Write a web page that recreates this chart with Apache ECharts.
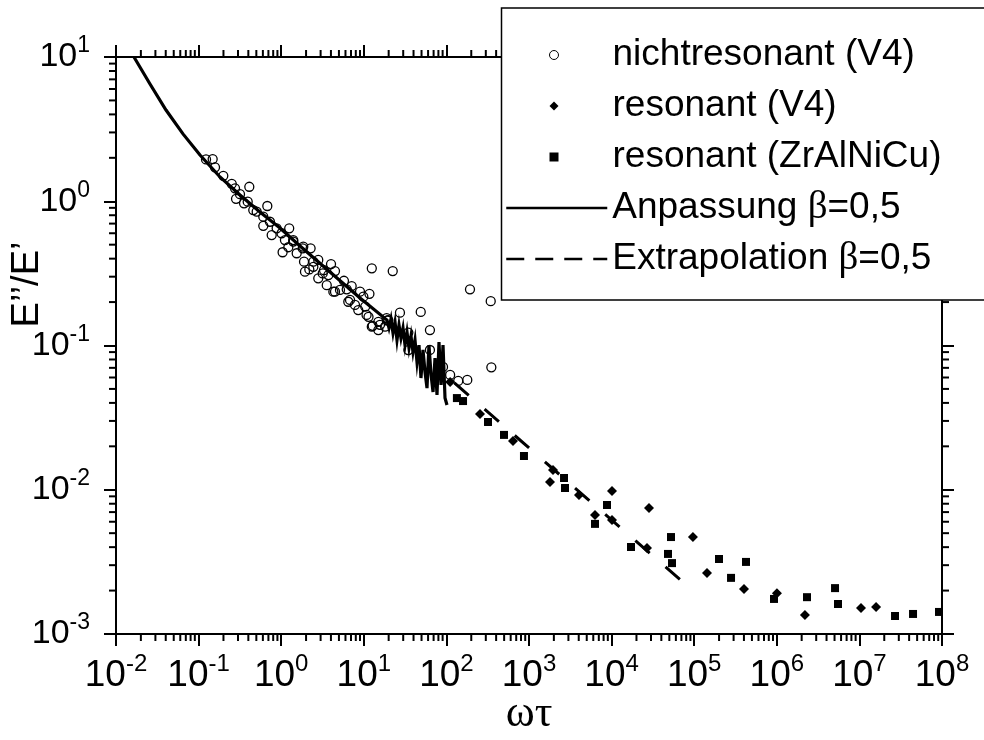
<!DOCTYPE html>
<html>
<head>
<meta charset="utf-8">
<script src="https://cdn.jsdelivr.net/npm/echarts@6/dist/echarts.min.js"></script>
<style>
  html, body { margin: 0; padding: 0; background: #fff; }
  #chart { width: 984px; height: 740px; }
</style>
</head>
<body>
<div id="chart"></div>
<script>
// Loss factor E''/E' versus reduced frequency ωτ (log-log)

// nichtresonant (V4)
const nonresX = [0.123, 0.148, 0.158, 0.199, 0.252, 0.276, 0.317, 0.411, 0.284, 0.355,
  0.393, 0.459, 0.505, 0.679, 0.607, 0.731, 0.607, 0.881, 1.25, 0.767,
  1.01, 1.11, 1.04, 1.22, 1.40, 1.54, 1.82, 2.27, 1.89, 1.94,
  2.19, 2.45, 2.81, 2.81, 3.18, 3.72, 4.01, 4.48, 3.56, 4.48,
  5.75, 6.21, 7.13, 6.49, 7.82, 9.0, 9.87, 11.7, 8.57, 10.4,
  11.4, 12.8, 15.0, 19.3, 12.5, 22.4, 27.4, 48.9, 34.6, 63.2,
  193, 344, 350, 111, 139, 179, 63.2, 34.6, 12.5, 15.7,
  19.8, 10.8, 18.9, 18.1, 15.0, 1.85, 1.40, 6.81, 5.15, 4.28,
  3.30, 2.45, 91];
const nonresY = [1.95, 1.96, 1.72, 1.50, 1.32, 1.23, 1.12, 1.26, 1.04, 0.968,
  0.993, 0.869, 0.847, 0.927, 0.782, 0.721, 0.676, 0.649, 0.649, 0.583,
  0.600, 0.538, 0.443, 0.480, 0.525, 0.436, 0.472, 0.472, 0.381, 0.325,
  0.337, 0.381, 0.392, 0.292, 0.316, 0.308, 0.367, 0.328, 0.262, 0.236,
  0.281, 0.245, 0.258, 0.201, 0.191, 0.236, 0.218, 0.228, 0.176, 0.186,
  0.158, 0.137, 0.146, 0.149, 0.343, 0.328, 0.169, 0.171, 0.123, 0.128,
  0.245, 0.203, 0.0706, 0.0625, 0.0568, 0.0577, 0.0931, 0.093, 0.135, 0.139,
  0.150, 0.163, 0.155, 0.135, 0.128, 0.484, 0.538, 0.207, 0.243, 0.236,
  0.333, 0.351, 0.071];

// resonant (V4)
const resV4X = [111, 255, 640, 1795, 1954, 4027, 10115, 6295, 10115, 28370,
  26850, 96600, 142900, 400900, 1.004e6, 2.19e6, 1.045e7, 1.59e7];
const resV4Y = [0.0558, 0.0335, 0.0218, 0.01132, 0.0137, 0.0092, 0.0098, 0.00668, 0.00617, 0.00747,
  0.00394, 0.0047, 0.00265, 0.00205, 0.00192, 0.001355, 0.001514, 0.001538];

// resonant (ZrAlNiCu)
const resZrX = [134, 159, 319, 498, 869, 2655, 2730, 8790, 6295, 17180,
  52360, 48180, 53860, 199600, 279200, 423700, 924700, 2.32e6, 5.07e6, 5.51e6,
  2.70e7, 4.46e7, 9.2e7];
const resZrY = [0.0432, 0.0412, 0.0295, 0.0240, 0.01714, 0.01206, 0.01028, 0.00784, 0.0058, 0.00401,
  0.0047, 0.00359, 0.0031, 0.00331, 0.00245, 0.00316, 0.00175, 0.0018, 0.00208, 0.001614,
  0.001333, 0.001377, 0.001422];

// Anpassung β=0,5 (smooth part, then the jagged stretch computed at the measured points)
const fitX = [0.0165, 0.0258, 0.0403, 0.0647, 0.104, 0.1815, 0.317, 0.553, 0.966, 1.69,
  3.90, 9.0, 19.1, 20.19, 21.35, 22.57, 23.88, 25.23, 26.68, 28.2,
  29.83, 31.54, 33.34, 35.26, 37.27, 39.4, 41.68, 44.07, 46.6, 49.2,
  52.08, 55.1, 58.23, 61.5, 65.2, 68.9, 72.78, 76.95, 81.34, 86.1,
  91.0, 96.2, 101.6];
const fitY = [10, 6.50, 4.29, 2.93, 2.09, 1.473, 1.105, 0.842, 0.653, 0.490,
  0.323, 0.2135, 0.150, 0.1322, 0.1527, 0.1221, 0.1456, 0.1092, 0.1387, 0.1127,
  0.1322, 0.1007, 0.1240, 0.0961, 0.1164, 0.0901, 0.1092, 0.0768, 0.1007, 0.0595,
  0.0931, 0.0655, 0.0507, 0.1007, 0.0625, 0.0476, 0.0819, 0.0454, 0.1057, 0.0532,
  0.1007, 0.0433, 0.0387];

// Extrapolation β=0,5
const extrapX = [125, 1e5];
const extrapY = [0.055, 0.00196];

// decade exponents used as tick labels
const xTickExponents = ['-2', '-1', '0', '1', '2', '3', '4', '5', '6', '7', '8'];
const yTickExponents = ['-3', '-2', '-1', '0', '1'];

const NAME_NONRES = 'nichtresonant (V4)';
const NAME_RESV4 = 'resonant (V4)';
const NAME_RESZR = 'resonant (ZrAlNiCu)';
const NAME_FIT = 'Anpassung β=0,5';
const NAME_EXT = 'Extrapolation β=0,5';

const X_MIN = -2, X_MAX = 8, Y_MIN = -3, Y_MAX = 1;
const SANS = 'Liberation Sans';
const SERIF = 'Liberation Serif';
const MINOR_LEN = 7;
const MAJOR_LEN = 12;

// the axes run in decades: each value is placed at its base-10 logarithm
function pairs(xs, ys) {
  return xs.map((x, i) => [Math.log10(x), Math.log10(ys[i])]);
}

// minor ticks at 2..9 within each decade
const xMinor = [];
for (let d = X_MIN; d < X_MAX; d++) for (let m = 2; m <= 9; m++) xMinor.push([d + Math.log10(m), Y_MIN]);
const yMinor = [];
for (let d = Y_MIN; d < Y_MAX; d++) for (let m = 2; m <= 9; m++) yMinor.push([X_MIN, d + Math.log10(m)]);

const tickStyle = { stroke: '#000', lineWidth: 2 };

function renderXMinor(params, api) {
  const v = api.value(0);
  const b = api.coord([v, Y_MIN]);
  const t = api.coord([v, Y_MAX]);
  return {
    type: 'group',
    children: [
      { type: 'line', shape: { x1: b[0], y1: b[1], x2: b[0], y2: b[1] + MINOR_LEN }, style: tickStyle },
      { type: 'line', shape: { x1: t[0], y1: t[1], x2: t[0], y2: t[1] - MINOR_LEN }, style: tickStyle }
    ]
  };
}

function renderYMinor(params, api) {
  const v = api.value(1);
  const l = api.coord([X_MIN, v]);
  const r = api.coord([X_MAX, v]);
  return {
    type: 'group',
    children: [
      { type: 'line', shape: { x1: l[0], y1: l[1], x2: l[0] - MINOR_LEN, y2: l[1] }, style: tickStyle },
      { type: 'line', shape: { x1: r[0], y1: r[1], x2: r[0] + MINOR_LEN, y2: r[1] }, style: tickStyle }
    ]
  };
}

const xPowRich = {
  m: { fontFamily: SANS, fontSize: 37, color: '#000' },
  e: { fontFamily: SANS, fontSize: 24, color: '#000', padding: [0, 0, 24, 0] }
};
const yPowRich = {
  m: { fontFamily: SANS, fontSize: 34, color: '#000' },
  e: { fontFamily: SANS, fontSize: 23, color: '#000', padding: [0, 0, 22, 0] }
};

function baseAxis(extra) {
  return Object.assign({
    type: 'value',
    splitLine: { show: false },
    axisLine: { show: true, onZero: false, lineStyle: { color: '#000', width: 2 } },
    axisTick: { show: true, inside: false, length: MAJOR_LEN, lineStyle: { color: '#000', width: 2 } }
  }, extra);
}

const legendText = {
  fontFamily: SANS, fontSize: 37, color: '#000', lineHeight: 40,
  rich: { b: { fontFamily: SERIF, fontSize: 39, color: '#000', lineHeight: 40 } }
};
const legendCommon = {
  orient: 'vertical', padding: 0, itemGap: 11,
  selectedMode: false, z: 20,
  formatter: name => name.replace('β', '{b|β}')
};

const chart = echarts.init(document.getElementById('chart'), null, { renderer: 'canvas' });

chart.setOption({
  animation: false,
  backgroundColor: '#fff',
  grid: { left: 116, right: 42, top: 57, bottom: 106, containLabel: false, outerBoundsMode: 'none' },
  xAxis: [
    baseAxis({
      position: 'bottom', min: X_MIN, max: X_MAX, interval: 1,
      axisLabel: {
        margin: 18,
        formatter: v => '{m|10}{e|' + xTickExponents[Math.round(v) - X_MIN] + '}',
        rich: xPowRich
      },
      name: 'ωτ', nameLocation: 'middle', nameGap: 58, nameMoveOverlap: false,
      nameTextStyle: { fontFamily: SERIF, fontSize: 44, color: '#000' }
    }),
    baseAxis({ position: 'top', min: X_MIN, max: X_MAX, interval: 1, axisLabel: { show: false } })
  ],
  yAxis: [
    baseAxis({
      position: 'left', min: Y_MIN, max: Y_MAX, interval: 1,
      axisLabel: {
        margin: 26,
        formatter: v => '{m|10}{e|' + yTickExponents[Math.round(v) - Y_MIN] + '}',
        rich: yPowRich
      },
      name: 'E\u2019\u2019/E\u2019', nameLocation: 'middle', nameGap: 69, nameRotate: 90, nameMoveOverlap: false,
      nameTextStyle: { fontFamily: SANS, fontSize: 38, color: '#000', padding: [0, 0, 0, 122] }
    }),
    baseAxis({ position: 'right', min: Y_MIN, max: Y_MAX, interval: 1, axisLabel: { show: false } })
  ],
  legend: [
    // marker entries: icon centred in the symbol column, text pushed to the text column
    Object.assign({}, legendCommon, {
      left: 549, top: 35, itemWidth: 9, itemHeight: 9,
      textStyle: Object.assign({}, legendText, { padding: [0, 0, 0, 49] }),
      data: [
        { name: NAME_NONRES, icon: 'circle', itemStyle: { color: 'transparent', borderColor: '#000', borderWidth: 1, opacity: 1 } },
        { name: NAME_RESV4, icon: 'diamond', itemStyle: { color: '#000', opacity: 1 } },
        { name: NAME_RESZR, icon: 'rect', itemStyle: { color: '#000', opacity: 1 } }
      ]
    }),
    // line entries
    Object.assign({}, legendCommon, {
      left: 505, top: 188, itemWidth: 101, itemHeight: 1,
      textStyle: legendText,
      data: [
        { name: NAME_FIT, itemStyle: { color: '#000', opacity: 0 }, lineStyle: { color: '#000', width: 2.5, type: 'solid' } },
        { name: NAME_EXT, itemStyle: { color: '#000', opacity: 0 }, lineStyle: { color: '#000', width: 2.5, type: [18, 11] } }
      ]
    })
  ],
  graphic: [
    {
      type: 'rect', z: 10, silent: true,
      shape: { x: 501.5, y: 8, width: 500, height: 292 },
      style: { fill: '#fff', stroke: '#000', lineWidth: 1.5 }
    }
  ],
  series: [
    {
      type: 'custom', name: 'xMinorTicks', silent: true, clip: false, z: 1,
      xAxisIndex: 0, yAxisIndex: 0, data: xMinor, renderItem: renderXMinor
    },
    {
      type: 'custom', name: 'yMinorTicks', silent: true, clip: false, z: 1,
      xAxisIndex: 0, yAxisIndex: 0, data: yMinor, renderItem: renderYMinor
    },
    {
      type: 'line', name: NAME_FIT, data: pairs(fitX, fitY),
      symbol: 'none', showSymbol: false, silent: true, z: 2,
      itemStyle: { color: '#000' },
      lineStyle: { color: '#000', width: 3.2, join: 'miter', opacity: 1 }
    },
    {
      type: 'line', name: NAME_EXT, data: pairs(extrapX, extrapY),
      symbol: 'none', showSymbol: false, silent: true, z: 2,
      itemStyle: { color: '#000' },
      lineStyle: { color: '#000', width: 3, type: [19, 21], opacity: 1 }
    },
    {
      type: 'scatter', name: NAME_NONRES, data: pairs(nonresX, nonresY),
      symbol: 'circle', symbolSize: 9, silent: true, z: 3,
      itemStyle: { color: 'transparent', borderColor: '#000', borderWidth: 1.3, opacity: 1 }
    },
    {
      type: 'scatter', name: NAME_RESV4, data: pairs(resV4X, resV4Y),
      symbol: 'diamond', symbolSize: 10, silent: true, z: 3,
      itemStyle: { color: '#000', opacity: 1 }
    },
    {
      type: 'scatter', name: NAME_RESZR, data: pairs(resZrX, resZrY),
      symbol: 'rect', symbolSize: 8, silent: true, z: 3,
      itemStyle: { color: '#000', opacity: 1 }
    }
  ]
});
</script>
</body>
</html>
